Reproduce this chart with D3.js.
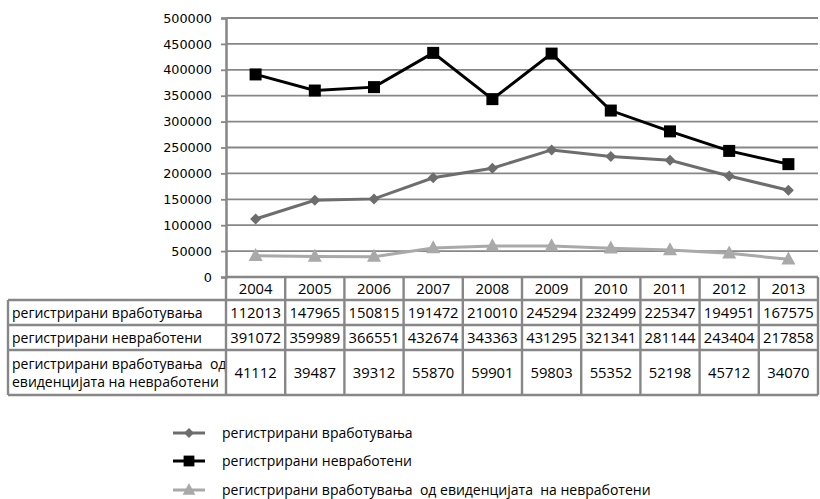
<!DOCTYPE html>
<html>
<head>
<meta charset="utf-8">
<script src="https://cdn.jsdelivr.net/npm/d3@7"></script>
<style>
  html, body { margin: 0; padding: 0; background: #fff; }
  svg { display: block; }
  .tbl text { font-family: "Open Sans", sans-serif; font-size: 14px; fill: #000; white-space: pre; }
  .tbl text.num { font-size: 14.8px; }
  .leg text { font-family: "Open Sans", sans-serif; font-size: 14px; fill: #000; white-space: pre; }
</style>
</head>
<body>
<svg id="chart" width="820" height="499"></svg>
<script>
// data
var years = ["2004", "2005", "2006", "2007", "2008", "2009", "2010", "2011", "2012", "2013"];
var employed = [112013, 147965, 150815, 191472, 210010, 245294, 232499, 225347, 194951, 167575];
var unemployed = [391072, 359989, 366551, 432674, 343363, 431295, 321341, 281144, 243404, 217858];
var employedFromRegistry = [41112, 39487, 39312, 55870, 59901, 59803, 55352, 52198, 45712, 34070];
var seriesNames = [
  ["регистрирани вработувања"],
  ["регистрирани невработени"],
  ["регистрирани вработувања  од", "евиденцијата на невработени"]
];
var legendNames = [
  "регистрирани вработувања",
  "регистрирани невработени",
  "регистрирани вработувања  од евиденцијата  на невработени"
];
var yTicks = [0, 50000, 100000, 150000, 200000, 250000, 300000, 350000, 400000, 450000, 500000];

var series = [
  { values: employed, color: "#6d6d6d", marker: "diamond" },
  { values: unemployed, color: "#000000", marker: "square" },
  { values: employedFromRegistry, color: "#a9a9a9", marker: "triangle" }
];

var svg = d3.select("#chart");
var plotLeft = 226, plotRight = 818, plotTop = 18, plotBottom = 277;
var gridColor = "#878787";

var x = d3.scaleBand().domain(years).range([plotLeft, plotRight]);
var y = d3.scaleLinear().domain([0, 500000]).range([plotBottom, plotTop]);

// gridlines
svg.append("g").selectAll("line").data(yTicks.filter(function (d) { return d > 0; }))
  .enter().append("line")
  .attr("x1", plotLeft).attr("x2", plotRight)
  .attr("y1", function (d) { return y(d); }).attr("y2", function (d) { return y(d); })
  .attr("stroke", gridColor).attr("stroke-width", 1.8);

// y axis
var yAxis = svg.append("g")
  .attr("transform", "translate(" + plotLeft + ",0)")
  .call(d3.axisLeft(y).tickValues(yTicks).tickFormat(d3.format("d")).tickSize(5).tickPadding(9));
yAxis.select(".domain").attr("stroke", gridColor).attr("stroke-width", 2.5);
yAxis.selectAll(".tick line").attr("stroke", gridColor).attr("stroke-width", 1.8);
yAxis.selectAll(".tick text")
  .attr("font-family", "DejaVu Sans, sans-serif").attr("font-size", 12.8).attr("fill", "#000");

// data table
var tbl = svg.append("g").attr("class", "tbl");
var rowTops = [277, 300, 325, 350, 395];
var tableLeft = 8;
var borderColor = "#878787";

// header row with years
tbl.selectAll("text.year").data(years).enter().append("text")
  .attr("class", "year num")
  .attr("x", function (d) { return x(d) + x.bandwidth() / 2; })
  .attr("y", (rowTops[0] + rowTops[1]) / 2 + 5.5)
  .attr("text-anchor", "middle")
  .text(function (d) { return d; });

series.forEach(function (s, i) {
  var top = rowTops[i + 1], bottom = rowTops[i + 2], mid = (top + bottom) / 2;
  var lines = seriesNames[i];
  lines.forEach(function (ln, j) {
    tbl.append("text")
      .attr("x", tableLeft + 4)
      .attr("y", mid + 5 + (j - (lines.length - 1) / 2) * 18)
      .text(ln);
  });
  tbl.selectAll("text.v" + i).data(s.values).enter().append("text")
    .attr("class", "num v" + i)
    .attr("x", function (d, k) { return x(years[k]) + x.bandwidth() / 2; })
    .attr("y", mid + 5.5)
    .attr("text-anchor", "middle")
    .text(function (d) { return d; });
});

// table borders
var borders = svg.append("g").attr("stroke", borderColor).attr("stroke-width", 2.4);
years.forEach(function (d) {
  borders.append("line").attr("x1", x(d)).attr("x2", x(d))
    .attr("y1", rowTops[0]).attr("y2", rowTops[4]);
});
borders.append("line").attr("x1", plotRight).attr("x2", plotRight)
  .attr("y1", rowTops[0]).attr("y2", rowTops[4]);
borders.append("line").attr("x1", tableLeft).attr("x2", tableLeft)
  .attr("y1", rowTops[1]).attr("y2", rowTops[4]);
borders.append("line").attr("x1", plotLeft).attr("x2", plotRight)
  .attr("y1", rowTops[0]).attr("y2", rowTops[0]);
rowTops.slice(1).forEach(function (t) {
  borders.append("line").attr("x1", tableLeft).attr("x2", plotRight)
    .attr("y1", t).attr("y2", t);
});

// markers
function drawMarker(g, type, color, cx, cy, scale) {
  scale = scale || 1;
  if (type === "square") {
    var s = 12 * scale;
    g.append("rect").attr("x", cx - s / 2).attr("y", cy - s / 2)
      .attr("width", s).attr("height", s).attr("fill", color);
  } else if (type === "diamond") {
    var r = 5.5 * scale;
    g.append("path")
      .attr("d", "M" + cx + "," + (cy - r) + "L" + (cx + r) + "," + cy + "L" + cx + "," + (cy + r) + "L" + (cx - r) + "," + cy + "Z")
      .attr("fill", color);
  } else {
    var h = 13 * scale, w = 14 * scale;
    g.append("path")
      .attr("d", "M" + cx + "," + (cy - h * 0.6) + "L" + (cx + w / 2) + "," + (cy + h * 0.4) + "L" + (cx - w / 2) + "," + (cy + h * 0.4) + "Z")
      .attr("fill", color);
  }
}

var line = d3.line()
  .x(function (d, i) { return x(years[i]) + x.bandwidth() / 2; })
  .y(function (d) { return y(d); });

// lighter series first so the black line sits on top
[2, 0, 1].forEach(function (i) {
  var s = series[i];
  var g = svg.append("g");
  g.append("path").datum(s.values)
    .attr("d", line)
    .attr("fill", "none")
    .attr("stroke", s.color)
    .attr("stroke-width", 3);
  s.values.forEach(function (v, k) {
    drawMarker(g, s.marker, s.color, x(years[k]) + x.bandwidth() / 2, y(v));
  });
});

// legend
var leg = svg.append("g").attr("class", "leg");
var legY = [433, 461, 490];
series.forEach(function (s, i) {
  var g = leg.append("g");
  g.append("line").attr("x1", 173).attr("x2", 205)
    .attr("y1", legY[i]).attr("y2", legY[i])
    .attr("stroke", s.color).attr("stroke-width", 3);
  drawMarker(g, s.marker, s.color, 189, legY[i], 0.9);
  g.append("text").attr("x", 222).attr("y", legY[i] + 5).text(legendNames[i]);
});
</script>
</body>
</html>
